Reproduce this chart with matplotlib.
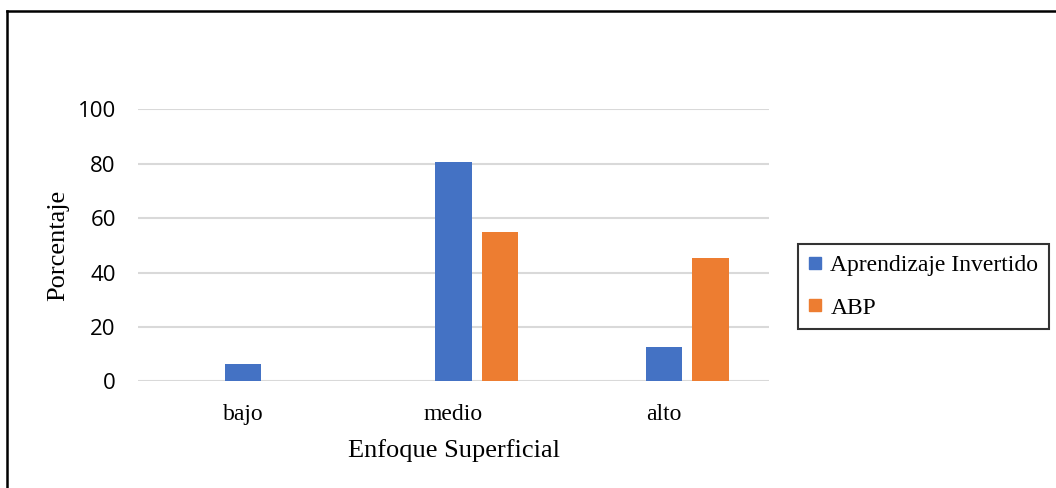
import matplotlib
matplotlib.use("Agg")
import matplotlib.pyplot as plt
from matplotlib.lines import Line2D
import numpy as np

# Porcentaje de estudiantes por nivel de enfoque superficial
categorias = ["bajo", "medio", "alto"]
invertido = [6.3, 80.6, 12.7]
abp = [0.0, 54.8, 45.2]
series = ["Aprendizaje Invertido", "ABP"]
yticks = [0, 20, 40, 60, 80, 100]

azul = "#4472C4"
naranja = "#ED7D31"
serif = ["Liberation Serif", "DejaVu Serif"]

W, H = 1056, 488
fig = plt.figure(figsize=(W / 100, H / 100), dpi=100)
ax = fig.add_axes([138 / W, 1 - 381.3 / H, (769 - 138) / W, (381.3 - 109.3) / H])

x = np.arange(len(categorias))
ancho = 0.174
ax.bar(x, invertido, ancho, color=azul, zorder=3)
ax.bar(x + 0.222, abp, ancho, color=naranja, zorder=3)

ax.set_xlim(-0.5, 2.5)
ax.set_ylim(0, 100)
ax.set_yticks(yticks)
ax.set_xticks(x)
ax.set_xticklabels(categorias, fontfamily=serif, fontsize=17)
for lab in ax.get_yticklabels():
    lab.set_fontfamily(["Open Sans", "DejaVu Sans"])
    lab.set_fontsize(16)
ax.tick_params(axis="both", length=0)
ax.tick_params(axis="x", pad=16)
ax.tick_params(axis="y", pad=16)
ax.grid(axis="y", color="#d9d9d9", linewidth=1.5, zorder=0)
for s in ax.spines.values():
    s.set_visible(False)

ax.set_xlabel("Enfoque Superficial", fontfamily=serif, fontsize=19)
ax.set_ylabel("Porcentaje", fontfamily=serif, fontsize=19)
ax.xaxis.set_label_coords(0.5, (381.3 - 451) / 272)
ax.xaxis.label.set_va("center")
ax.yaxis.set_label_coords((58.5 - 138) / 631, 0.5)
ax.yaxis.label.set_va("center")

# leyenda con recuadro negro a la derecha
handles = [Line2D([], [], marker="s", linestyle="none", markersize=8.6,
                  markerfacecolor=c, markeredgecolor=c) for c in (azul, naranja)]
leg = fig.legend(handles, series, loc="upper left",
                 bbox_to_anchor=(797.7 / W, 1 - 244 / H), bbox_transform=fig.transFigure,
                 prop={"family": serif, "size": 17}, frameon=True, fancybox=False,
                 handlelength=0.6, handletextpad=0.34, labelspacing=0.9, borderpad=0.44,
                 borderaxespad=0)
leg.get_frame().set_edgecolor("black")
leg.get_frame().set_linewidth(1.5)

# marco exterior (solo lados superior e izquierdo visibles)
fig.add_artist(Line2D([7 / W, 1], [1 - 10.5 / H, 1 - 10.5 / H], color="black",
                      linewidth=1.8, transform=fig.transFigure))
fig.add_artist(Line2D([7 / W, 7 / W], [0, 1 - 10.5 / H], color="black",
                      linewidth=1.8, transform=fig.transFigure))

fig.savefig("out.png", dpi=100)
